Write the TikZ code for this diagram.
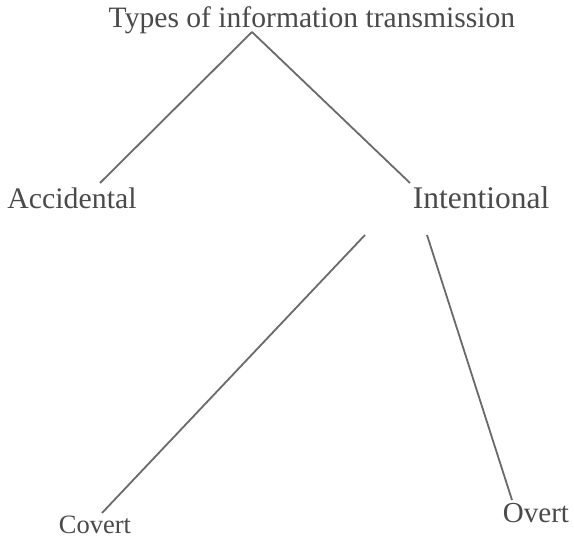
\documentclass[tikz,border=0pt]{standalone}
\usepackage{fontspec}
\setmainfont{Liberation Serif}
\definecolor{ink}{HTML}{4A4A4A}
\definecolor{wire}{HTML}{6A6A6A}
\begin{document}
\begin{tikzpicture}[x=1pt,y=1pt,
  lbl/.style={inner sep=0pt,text=ink},
  wireln/.style={draw=wire,line width=1.8pt}]
\useasboundingbox (0,0) rectangle (574,540);
\fill[white] (0,0) rectangle (574,540);
\node[lbl,font=\fontsize{29.6}{32}\selectfont] (title) at (312,520) {Types of information transmission};
\node[lbl,font=\fontsize{29.8}{32}\selectfont] (acc) at (72,342) {Accidental};
\node[lbl,font=\fontsize{31.5}{34}\selectfont] (int) at (481,342) {Intentional};
\node[lbl,font=\fontsize{26.5}{29}\selectfont] (cov) at (95,15.5) {Covert};
\node[lbl,font=\fontsize{29}{32}\selectfont] (ovt) at (536,26.5) {Overt};
\draw[wireln] ([shift={(-60,-12)}]title.center) -- ([shift={(28,15)}]acc.center);
\draw[wireln] ([shift={(-60,-12)}]title.center) -- ([shift={(-71,15)}]int.center);
\draw[wireln] ([shift={(-116,-37)}]int.center) -- ([shift={(7,11.5)}]cov.center);
\draw[wireln] ([shift={(-54,-37)}]int.center) -- ([shift={(-24,13.5)}]ovt.center);
\end{tikzpicture}
\end{document}
